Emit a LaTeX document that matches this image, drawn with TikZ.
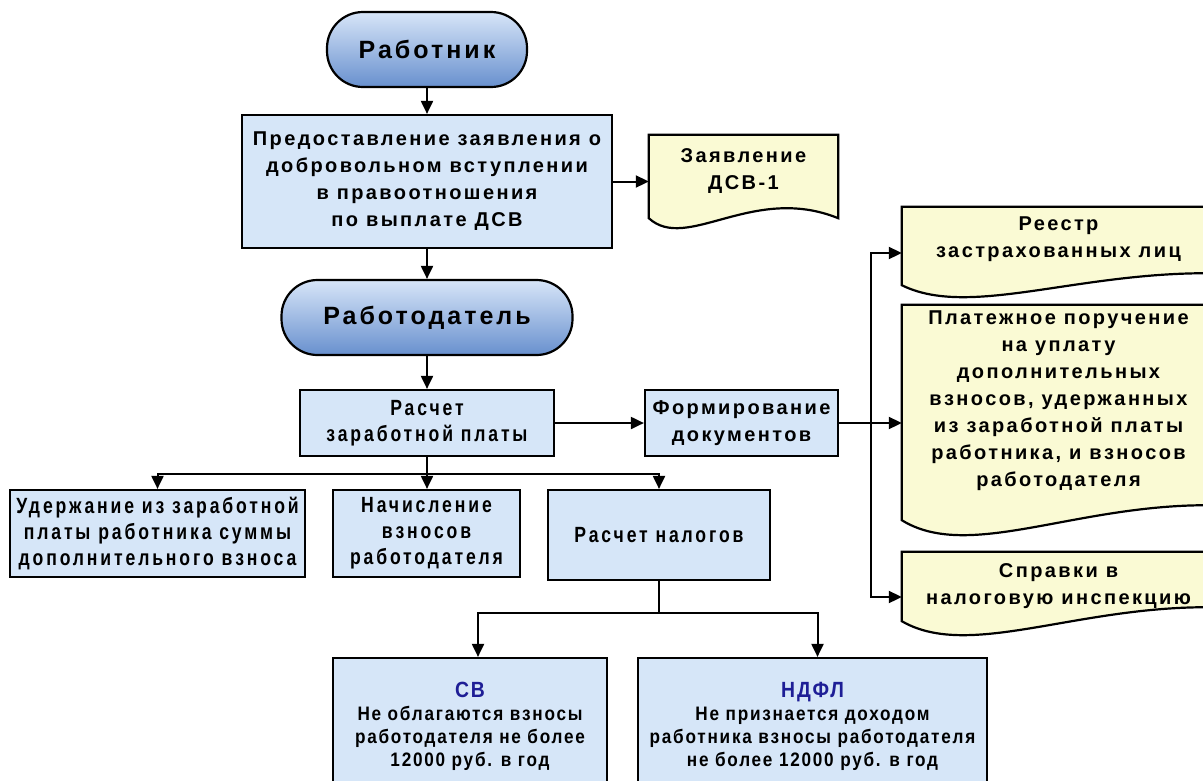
\documentclass[tikz,border=0pt]{standalone}
\usepackage{fontspec}
\setmainfont{Liberation Sans}
\newfontfamily\widefont[LetterSpace=12]{Liberation Sans}
\newfontfamily\narrowfont[FakeStretch=0.8,LetterSpace=13]{Liberation Sans}
\newfontfamily\condfont[FakeStretch=0.88,LetterSpace=9]{Liberation Sans}
\usetikzlibrary{arrows.meta,calc,backgrounds}
\definecolor{boxblue}{RGB}{214,230,248}
\definecolor{docyellow}{RGB}{250,250,212}
\definecolor{termtop}{RGB}{215,229,248}
\definecolor{termbot}{RGB}{104,144,206}
\definecolor{navytext}{RGB}{30,30,150}
\tikzset{
  procbox/.style={draw=black, line width=2.2pt, fill=boxblue, align=center, inner sep=0pt},
  widetext/.style={font=\widefont\bfseries\fontsize{20}{27}\selectfont},
  narrowtext/.style={font=\narrowfont\bfseries\fontsize{22}{26}\selectfont},
  condtext/.style={font=\condfont\bfseries\fontsize{19.5}{23}\selectfont},
  term/.style={draw=black, line width=2.2pt, rounded corners=36pt, top color=termtop, bottom color=termbot,
    inner sep=0pt, font=\widefont\bfseries\fontsize{25}{30}\selectfont},
  docnode/.style={align=center, inner sep=0pt, widetext},
  docline/.style={draw=black, line width=2.2pt, fill=docyellow},
  arr/.style={line width=2pt, -{Triangle[length=13pt,width=12pt]}},
  conn/.style={line width=2pt}
}
\newcommand\docpath[4]{%
  \path[docline] let \p1=(#1.north west), \p2=(#1.south east) in
   (\p1) -- ({\x2+#4pt},\y1) -- ({\x2+#4pt},{\y2-#2pt})
   .. controls ({\x1+0.55*(\x2+#4pt-\x1)},{\y2-#2pt+3.46*#3pt})
           and ({\x1+0.2*(\x2+#4pt-\x1)},{\y2-#2pt-3.46*#3pt}) .. (\x1,{\y2-#2pt}) -- cycle;}
\newcommand\headlabel[1]{{\color{navytext}\fontsize{22}{23}\selectfont #1}}
\begin{document}
\begin{tikzpicture}[x=1pt,y=-1pt]
\useasboundingbox (0,0) rectangle (1203,780);
% main column
\node[term, minimum width=200pt, minimum height=75pt] (rab) at (427,49.5) {Работник};
\node[procbox, widetext, minimum width=370pt, minimum height=133pt] (pred) at (427,181.5)
  {Предоставление заявления о\\добровольном вступлении\\в правоотношения\\по выплате ДСВ};
\node[term, minimum width=291pt, minimum height=75pt] (rabd) at (427,317.5) {Работодатель};
\node[procbox, narrowtext, minimum width=254pt, minimum height=66pt] (rasch) at (427,423)
  {Расчет\\заработной платы};
\node[procbox, widetext, minimum width=193pt, minimum height=66pt] (form) at (741.5,423)
  {Формирование\\документов};
% documents
\node[docnode, minimum width=189pt, minimum height=73pt] (zayav) at (743.5,171.5) {Заявление\\ДСВ-1};
\node[docnode, minimum width=313pt, minimum height=65pt] (reestr) at (1058.5,239.5) {Реестр\\застрахованных лиц};
\node[docnode, minimum width=313pt, minimum height=191pt] (plat) at (1058.5,400.5)
  {Платежное поручение\\на уплату\\дополнительных\\взносов, удержанных\\из заработной платы\\работника, и взносов\\работодателя};
\node[docnode, minimum width=313pt, minimum height=69pt] (sprav) at (1058.5,586.5) {Справки в\\налоговую инспекцию};
\begin{scope}[on background layer]
  \docpath{zayav}{10}{10}{0}
  \docpath{reestr}{13}{12}{105}
  \docpath{plat}{24}{15}{105}
  \docpath{sprav}{0}{14}{105}
\end{scope}
% third row
\node[procbox, narrowtext, minimum width=295pt, minimum height=87pt] (uder) at (157.5,533.5)
  {Удержание из заработной\\платы работника суммы\\дополнительного взноса};
\node[procbox, narrowtext, minimum width=187pt, minimum height=87pt] (nach) at (426.5,533.5)
  {Начисление\\взносов\\работодателя};
\node[procbox, narrowtext, minimum width=222pt, minimum height=90pt] (nalog) at (659,535)
  {Расчет налогов};
% bottom row
\node[procbox, condtext, minimum width=274pt, minimum height=137pt] (sv) at (470,726.5)
  {\headlabel{СВ}\\Не облагаются взносы\\работодателя не более\\12000 руб. в год};
\node[procbox, condtext, minimum width=349pt, minimum height=137pt] (ndfl) at (812.5,726.5)
  {\headlabel{НДФЛ}\\Не признается доходом\\работника взносы работодателя\\не более 12000 руб. в год};
% connectors
\draw[arr] (rab.south) -- (pred.north);
\draw[arr] (pred.south) -- (rabd.north);
\draw[arr] (rabd.south) -- (rasch.north);
\draw[arr] (pred.east) -- (pred.east -| zayav.west);
\draw[arr] (rasch.east) -- (form.west);
\coordinate (b1) at ($(rasch.south)+(0,17)$);
\draw[conn] (rasch.south) -- (b1);
\draw[arr] (b1) -| (uder.north);
\draw[arr] (b1) -- (b1 |- nach.north);
\draw[arr] (b1) -| (nalog.north);
\coordinate (b2) at ($(nalog.south)+(0,32)$);
\draw[conn] (nalog.south) -- (b2);
\draw[arr] (b2) -| ($(sv.north)+(8,0)$);
\draw[arr] (b2) -| ($(ndfl.north)+(5,0)$);
\coordinate (b3) at ($(form.east)+(32,0)$);
\draw[conn] (form.east) -- (b3);
\draw[arr] (b3) |- ($(reestr.west)+(0,13.5)$);
\draw[arr] (b3) -- (b3 -| plat.west);
\draw[arr] (b3) |- ($(sprav.west)+(0,10.5)$);
\end{tikzpicture}
\end{document}
